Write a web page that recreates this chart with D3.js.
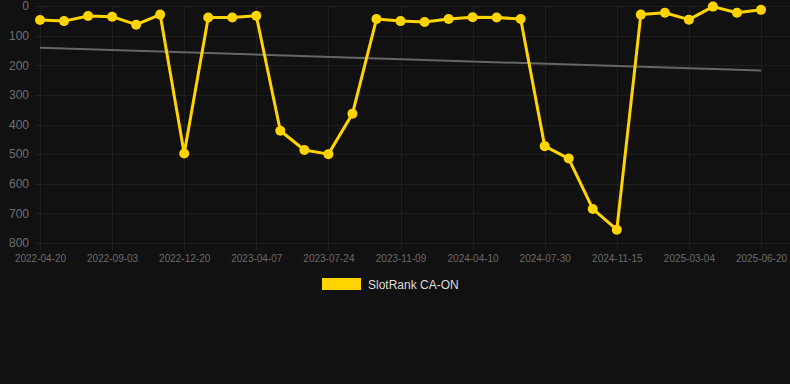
<!DOCTYPE html>
<html>
<head>
<meta charset="utf-8">
<script src="https://cdn.jsdelivr.net/npm/d3@7"></script>
<style>
  html, body { margin: 0; padding: 0; background: #111111; }
  svg { display: block; font-family: "Liberation Sans", Arial, sans-serif; }
</style>
</head>
<body>
<svg id="chart" width="790" height="384"></svg>
<script>
// ---- data ----
const tickLabels = ["2022-04-20","2022-09-03","2022-12-20","2023-04-07","2023-07-24","2023-11-09","2024-04-10","2024-07-30","2024-11-15","2025-03-04","2025-06-20"];
const pointsPerTick = 3;
const rankValues = [47, 51, 34, 36, 63, 29, 498, 39, 39, 33, 421, 486, 500, 364, 44, 51, 54, 44, 38, 39, 44, 473, 515, 685, 755, 29, 23, 46, 2, 23, 13];
const trendValues = [141, 218];
const yTicks = [0, 100, 200, 300, 400, 500, 600, 700, 800];
const seriesName = "SlotRank CA-ON";

// ---- layout ----
const W = 790, H = 384;
const plotLeft = 40, plotRight = 761, plotTop = 6, plotBottom = 243;
const svg = d3.select("#chart");
svg.append("rect").attr("width", W).attr("height", H).attr("fill", "#111111");

const n = rankValues.length;
const x = d3.scaleLinear().domain([0, n - 1]).range([plotLeft, plotRight]);
const y = d3.scaleLinear().domain([0, 800]).range([plotTop, plotBottom]);

// grid
const tickIdx = tickLabels.map((d, i) => i * pointsPerTick);
const grid = svg.append("g");
grid.selectAll("line.h").data(yTicks).join("line")
  .attr("x1", plotLeft - 5).attr("x2", W)
  .attr("y1", d => Math.round(y(d)) + 0.5).attr("y2", d => Math.round(y(d)) + 0.5)
  .attr("stroke", "rgba(255,255,255,0.055)").attr("stroke-width", 1);
grid.selectAll("line.v").data(tickIdx).join("line")
  .attr("x1", d => Math.round(x(d)) + 0.5).attr("x2", d => Math.round(x(d)) + 0.5)
  .attr("y1", plotTop).attr("y2", plotBottom + 7)
  .attr("stroke", "rgba(255,255,255,0.055)").attr("stroke-width", 1);

// y axis labels
const yAxis = d3.axisLeft(y).tickValues(yTicks).tickSize(0).tickPadding(0);
const yg = svg.append("g").attr("transform", `translate(${plotLeft - 11},0)`).call(yAxis);
yg.select(".domain").remove();
yg.selectAll("text").attr("fill", "#707070").attr("font-size", 12)
  .attr("font-family", "\"Liberation Sans\", Arial, sans-serif");

// x axis labels
const xAxis = d3.axisBottom(x).tickValues(tickIdx)
  .tickFormat((d, i) => tickLabels[i]).tickSize(0).tickPadding(0);
const xg = svg.append("g").attr("transform", `translate(0,${plotBottom + 12})`).call(xAxis);
xg.select(".domain").remove();
xg.selectAll("text").attr("fill", "#6a6a6a").attr("font-size", 10)
  .attr("font-family", "\"Liberation Sans\", Arial, sans-serif");

// trend line
svg.append("line")
  .attr("x1", x(0)).attr("x2", x(n - 1))
  .attr("y1", y(trendValues[0])).attr("y2", y(trendValues[1]))
  .attr("stroke", "#666666").attr("stroke-width", 2);

// series line
const line = d3.line().x((d, i) => x(i)).y(d => y(d));
svg.append("path").datum(rankValues)
  .attr("d", line).attr("fill", "none")
  .attr("stroke", "#FFD400").attr("stroke-width", 3).attr("stroke-linejoin", "round");
svg.append("g").selectAll("circle").data(rankValues).join("circle")
  .attr("cx", (d, i) => x(i)).attr("cy", d => y(d)).attr("r", 5)
  .attr("fill", "#FFD400");

// legend
const lg = svg.append("g");
lg.append("rect").attr("x", 322).attr("y", 278).attr("width", 39).attr("height", 12).attr("fill", "#FFD400");
lg.append("text").attr("x", 368).attr("y", 289).text(seriesName)
  .attr("fill", "#dddddd").attr("font-size", 12)
  .attr("font-family", "\"Liberation Sans\", Arial, sans-serif");
</script>
</body>
</html>
